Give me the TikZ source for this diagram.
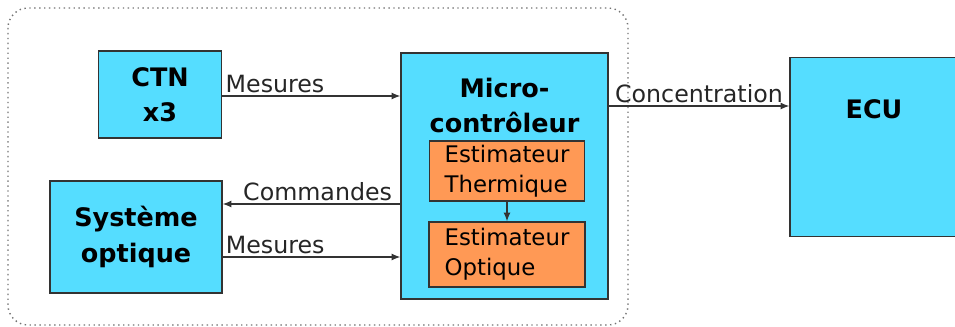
\documentclass[tikz,border=0pt]{standalone}
\usepackage{fontspec}
\setmainfont{DejaVu Sans}
\usetikzlibrary{arrows.meta}

\definecolor{cyanbox}{HTML}{55DDFF}
\definecolor{orangebox}{HTML}{FF9955}
\definecolor{edge}{HTML}{333333}

\begin{document}
\begin{tikzpicture}[
x=0.02cm, y=-0.02cm,
blk/.style={draw=edge, line width=0.8pt, fill=cyanbox, align=center, inner sep=2pt,
  font=\fontsize{14.5}{20}\selectfont\bfseries},
title/.style={align=center, inner sep=0pt, font=\fontsize{14.5}{20}\selectfont\bfseries},
est/.style={draw=edge, line width=0.8pt, fill=orangebox, align=left, inner sep=2pt,
  font=\fontsize{13}{17}\selectfont},
arrowlabel/.style={font=\fontsize{13.5}{16}\selectfont, text=black!85, inner sep=1.5pt},
arrow/.style={-{Latex[length=5pt,width=4pt]}, line width=0.7pt, draw=black!80} ]

\useasboundingbox (0,0) rectangle (955,327);
\clip (0,0) rectangle (955,327);

% zone embarquee
\draw[dotted, line width=0.8pt, draw=black!55, rounded corners=0.4cm] (8,8) rectangle (628,325);

\node[blk, minimum width=2.47cm, minimum height=1.74cm](ctn) at (160,94.5) {CTN\\x3};

\node[blk, minimum width=3.44cm, minimum height=2.24cm](sys) at (136,237) {Système\\optique};

\node[blk, minimum width=4.14cm, minimum height=4.92cm](micro) at (504.5,176) {};
\node[title, anchor=north](microlbl) at ([yshift=-0.5cm]micro.north) {Micro-\\contrôleur};

\node[est, minimum width=3.1cm, minimum height=1.2cm](therm) at (507,171) {Estimateur\\Thermique};

\node[est, minimum width=3.12cm, minimum height=1.3cm](optq) at (507,254.5) {Estimateur\\Optique};

\node[blk, minimum width=3.36cm, minimum height=3.58cm](ecu) at (874,147) {};
\node[title](eculbl) at ([yshift=-1.05cm]ecu.north) {ECU};

\draw[arrow] ([yshift=-0.03cm]ctn.east) -- node[pos=0, anchor=south west, arrowlabel] {Mesures} ([yshift=-0.03cm]ctn.east -| micro.west);

\draw[arrow] ([yshift=0.66cm]sys.east -| micro.west) -- node[pos=0, anchor=south east, xshift=-0.1cm, arrowlabel] {Commandes} ([yshift=0.66cm]sys.east);

\draw[arrow] ([yshift=-0.4cm]sys.east) -- node[pos=0, anchor=south west, arrowlabel] {Mesures} ([yshift=-0.4cm]sys.east -| micro.west);

\draw[arrow] ([yshift=1.4cm]micro.east) -- node[midway, above, arrowlabel] {Concentration} ([yshift=1.4cm]micro.east -| ecu.west);

\draw[arrow] (therm) -- (optq);
\end{tikzpicture}
\end{document}
